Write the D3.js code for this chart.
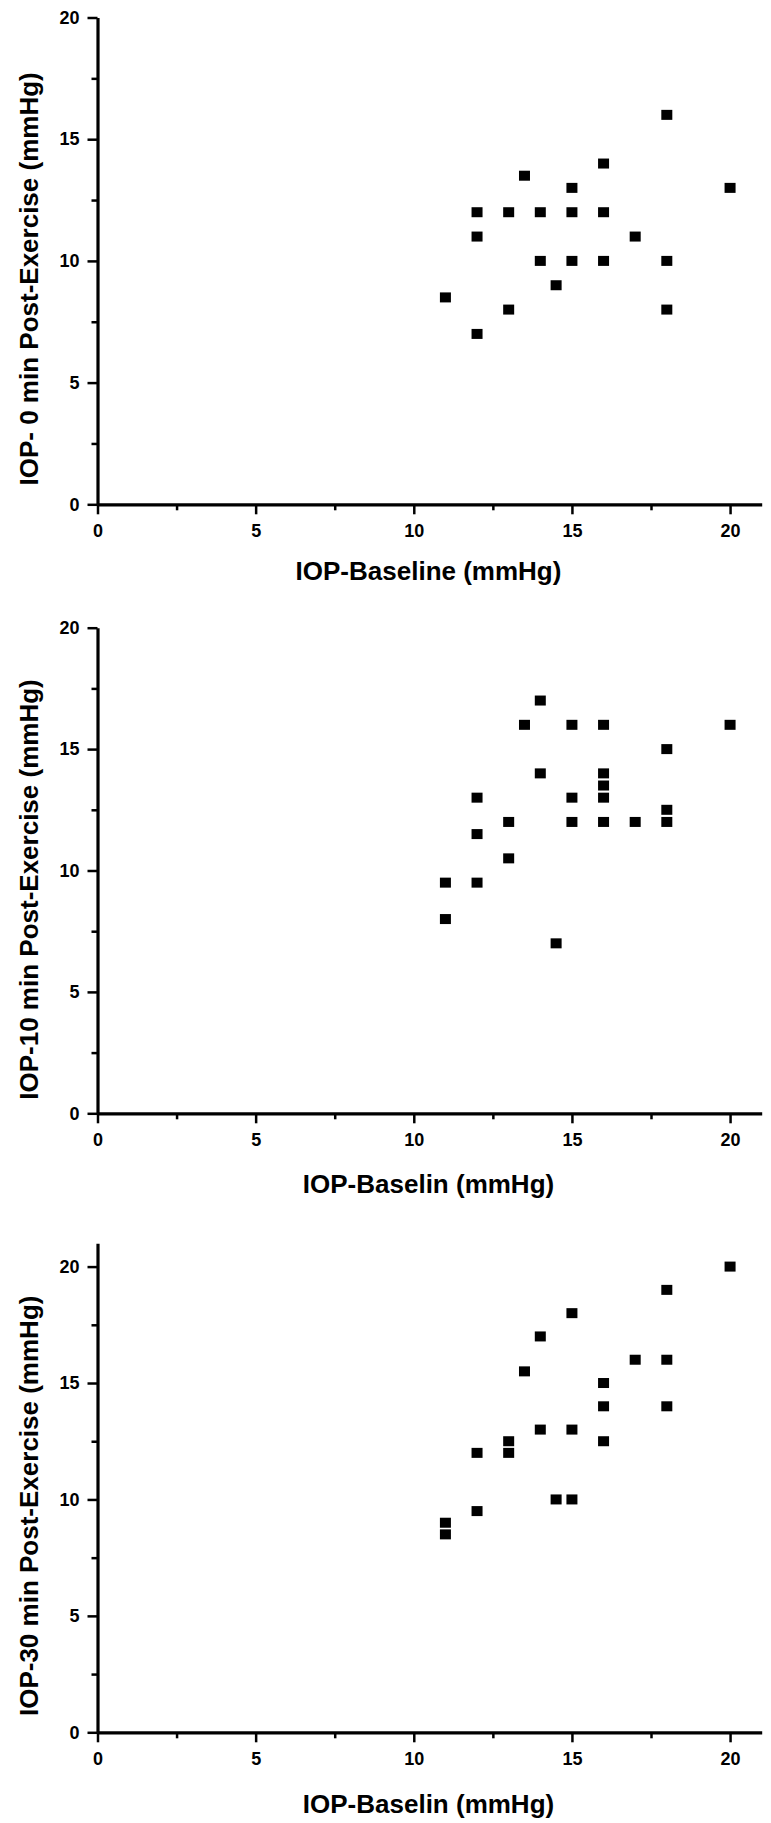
<!DOCTYPE html>
<html>
<head>
<meta charset="utf-8">
<script src="https://cdn.jsdelivr.net/npm/d3@7"></script>
<style>
  html, body { margin: 0; padding: 0; background: #fff; }
  svg { display: block; }
  text { font-family: "Liberation Sans", Arial, sans-serif; font-weight: bold; fill: #000; }
</style>
</head>
<body>
<svg id="chart" width="771" height="1823"></svg>
<script>
// ---- Data ----
const xTickValues = [0, 5, 10, 15, 20];
const yTickValues = [0, 5, 10, 15, 20];

const xTitles = ["IOP-Baseline (mmHg)", "IOP-Baselin (mmHg)", "IOP-Baselin (mmHg)"];
const yTitles = ["IOP- 0 min Post-Exercise (mmHg)", "IOP-10 min Post-Exercise (mmHg)", "IOP-30 min Post-Exercise (mmHg)"];

// Panel 1: IOP 0 min post-exercise vs baseline
const baseline0 = [18, 16, 13.5, 15, 20, 12, 13, 14, 15, 16, 12, 17, 14, 15, 16, 18, 14.5, 11, 13, 18, 12];
const iop0      = [16, 14, 13.5, 13, 13, 12, 12, 12, 12, 12, 11, 11, 10, 10, 10, 10, 9, 8.5, 8, 8, 7];

// Panel 2: IOP 10 min post-exercise vs baseline
const baseline10 = [14, 13.5, 15, 16, 20, 18, 14, 16, 16, 12, 15, 16, 18, 13, 15, 16, 17, 18, 12, 13, 11, 12, 11, 14.5];
const iop10      = [17, 16, 16, 16, 16, 15, 14, 14, 13.5, 13, 13, 13, 12.5, 12, 12, 12, 12, 12, 11.5, 10.5, 9.5, 9.5, 8, 7];

// Panel 3: IOP 30 min post-exercise vs baseline
const baseline30 = [20, 18, 15, 14, 17, 18, 13.5, 16, 16, 18, 14, 15, 13, 16, 12, 13, 14.5, 15, 12, 11, 11];
const iop30      = [20, 19, 18, 17, 16, 16, 15.5, 15, 14, 14, 13, 13, 12.5, 12.5, 12, 12, 10, 10, 9.5, 9, 8.5];

const xDomains = [[0, 21], [0, 21], [0, 21]];
const yDomains = [[0, 20], [0, 20], [0, 21]];

// ---- Layout ----
const panels = [
  { bx: baseline0,  by: iop0,  yTop: 17.5,   yBot: 504.3,  xtOff: 76, ytOff: 18 },
  { bx: baseline10, by: iop10, yTop: 627.7,  yBot: 1113.3, xtOff: 80, ytOff: 19 },
  { bx: baseline30, by: iop30, yTop: 1243.3, yBot: 1732.3, xtOff: 81, ytOff: 18 }
];
const xLeft = 97.5, xRight = 761.7;
const markW = 11, markH = 10;

const svg = d3.select("#chart");

panels.forEach((p, i) => {
  const x = d3.scaleLinear().domain(xDomains[i]).range([xLeft, xRight]);
  const y = d3.scaleLinear().domain(yDomains[i]).range([p.yBot, p.yTop]);
  const g = svg.append("g");

  const xMinor = d3.range(2.5, xDomains[i][1], 5);
  const yMinor = d3.range(2.5, yDomains[i][1], 5);

  // minor ticks
  g.append("g").attr("transform", `translate(0,${p.yBot})`)
    .call(d3.axisBottom(x).tickValues(xMinor).tickSize(6).tickFormat(""))
    .call(a => a.select(".domain").remove())
    .call(a => a.selectAll("line").attr("stroke", "#000").attr("stroke-width", 2.5));
  g.append("g").attr("transform", `translate(${xLeft},0)`)
    .call(d3.axisLeft(y).tickValues(yMinor).tickSize(6).tickFormat(""))
    .call(a => a.select(".domain").remove())
    .call(a => a.selectAll("line").attr("stroke", "#000").attr("stroke-width", 2.5));

  // major x axis
  const xa = g.append("g").attr("transform", `translate(0,${p.yBot})`)
    .call(d3.axisBottom(x).tickValues(xTickValues).tickSize(10).tickSizeOuter(0).tickPadding(10).tickFormat(d3.format("d")));
  xa.select(".domain").attr("stroke", "#000").attr("stroke-width", 3.2);
  xa.selectAll(".tick line").attr("stroke", "#000").attr("stroke-width", 2.5);
  xa.selectAll(".tick text").attr("font-size", 18).attr("font-family", "Liberation Sans, Arial, sans-serif").attr("font-weight", "bold");

  // major y axis
  const ya = g.append("g").attr("transform", `translate(${xLeft},0)`)
    .call(d3.axisLeft(y).tickValues(yTickValues).tickSize(10).tickSizeOuter(0).tickPadding(8).tickFormat(d3.format("d")));
  ya.select(".domain").attr("stroke", "#000").attr("stroke-width", 3.2);
  ya.selectAll(".tick line").attr("stroke", "#000").attr("stroke-width", 2.5);
  ya.selectAll(".tick text").attr("font-size", 18).attr("font-family", "Liberation Sans, Arial, sans-serif").attr("font-weight", "bold");

  // points
  const pts = p.bx.map((v, k) => ({ bx: v, by: p.by[k] }));
  g.append("g").selectAll("rect").data(pts).join("rect")
    .attr("x", d => x(d.bx) - markW / 2)
    .attr("y", d => y(d.by) - markH / 2)
    .attr("width", markW).attr("height", markH)
    .attr("fill", "#000");

  // axis titles
  g.append("text")
    .attr("x", 428.5).attr("y", p.yBot + p.xtOff)
    .attr("text-anchor", "middle")
    .attr("font-size", 26)
    .text(xTitles[i]);

  g.append("text")
    .attr("transform", `translate(38,${(p.yTop + p.yBot) / 2 + p.ytOff}) rotate(-90)`)
    .attr("text-anchor", "middle")
    .attr("font-size", 26)
    .text(yTitles[i]);
});
</script>
</body>
</html>
